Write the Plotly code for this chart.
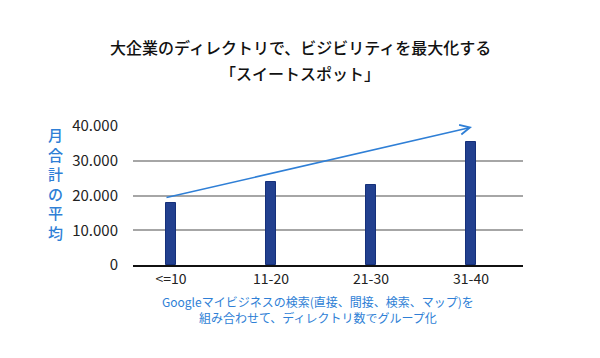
import plotly.graph_objects as go

categories = ["<=10", "11-20", "21-30", "31-40"]
values = [17800, 23800, 22900, 35300]
y_tick_vals = [0, 10000, 20000, 30000, 40000]
y_tick_text = ["0", "10.000", "20.000", "30.000", "40.000"]
title_line1 = "大企業のディレクトリで、ビジビリティを最大化する"
title_line2 = "「スイートスポット」"
y_title = "月合計の平均"
growth_label = "総増加率:55%"
caption = "Googleマイビジネスの検索(直接、間接、検索、マップ)を<br>組み合わせて、ディレクトリ数でグループ化"
arrow_start = (-0.06, 19300)
arrow_end = (3.01, 39700)

FONT = "Noto Sans CJK JP, Noto Sans, sans-serif"
BLUE = "#2f7fd6"

fig = go.Figure()
fig.add_trace(go.Bar(
    x=list(range(len(categories))), y=values, width=0.095,
    marker=dict(color="#22408f", line=dict(color="#15307a", width=1)),
    hoverinfo="skip",
))

W, H = 600, 358
L, R, T, B = 133, 77, 126, 93
ph = H - T - B

def py(p):
    return (H - B - p) / ph

def px(p):
    return (p - L) / (W - L - R)

fig.update_layout(
    width=W, height=H,
    margin=dict(l=L, r=R, t=T, b=B, autoexpand=False),
    paper_bgcolor="white", plot_bgcolor="white",
    showlegend=False,
    font=dict(family=FONT, color="#222"),
    bargap=0,
    xaxis=dict(
        range=[-0.38, 3.52], tickvals=list(range(len(categories))), ticktext=categories,
        showgrid=False, zeroline=False, showline=True, linecolor="#111", linewidth=2,
        ticks="", tickfont=dict(size=14, color="#222", family=FONT), fixedrange=True,
        automargin=False,
    ),
    yaxis=dict(
        range=[0, 40000], tickvals=y_tick_vals, ticktext=y_tick_text,
        showgrid=True, gridcolor="#a6a6a6", gridwidth=1.5, zeroline=False,
        showline=False, ticks="", ticklabelstandoff=14,
        tickfont=dict(size=15, color="#222", family=FONT), fixedrange=True,
        automargin=False,
    ),
    annotations=[
        dict(text=title_line1, xref="paper", yref="paper", x=px(300), y=py(47),
             showarrow=False, font=dict(size=16, color="#111", family=FONT, weight=500),
             xanchor="center", yanchor="middle"),
        dict(text=title_line2, xref="paper", yref="paper", x=px(300), y=py(73),
             showarrow=False, font=dict(size=16, color="#111", family=FONT, weight=500),
             xanchor="center", yanchor="middle"),
        dict(text="<br>".join(list(y_title)), xref="paper", yref="paper", x=px(55), y=py(183),
             showarrow=False, font=dict(size=15, color=BLUE, family=FONT, weight=500),
             xanchor="center", yanchor="middle"),
        dict(text=caption, xref="paper", yref="paper", x=px(318), y=py(309),
             showarrow=False, font=dict(size=12, color=BLUE, family=FONT),
             xanchor="center", yanchor="middle"),
        dict(text=growth_label, xref="x", yref="y", x=1.5, y=43740,
             showarrow=False, font=dict(size=14, color=BLUE, family=FONT),
             xanchor="center", yanchor="middle"),
        dict(text="", xref="x", yref="y", x=arrow_end[0], y=arrow_end[1],
             axref="x", ayref="y", ax=arrow_start[0], ay=arrow_start[1],
             showarrow=True, arrowhead=5, arrowsize=1.3, arrowwidth=1.5,
             arrowcolor=BLUE, standoff=0, startstandoff=0),
    ],
)

fig.write_html("out.html", config={"displayModeBar": False},
               post_script="document.body.style.margin='0';")
